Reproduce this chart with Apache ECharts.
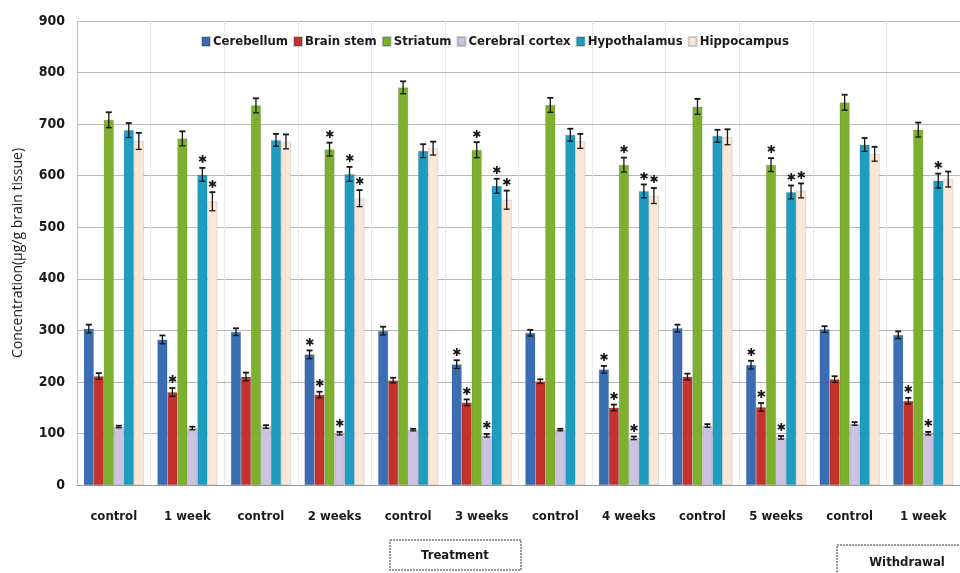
<!DOCTYPE html>
<html>
<head>
<meta charset="utf-8">
<script src="https://cdn.jsdelivr.net/npm/echarts@6/dist/echarts.min.js"></script>
<style>
  html, body { margin: 0; padding: 0; background: #fff; }
  #grafico { width: 960px; height: 573px; }
</style>
</head>
<body>
<div id="grafico"></div>
<script>
const categorias = ['control', '1 week', 'control', '2 weeks', 'control', '3 weeks',
                    'control', '4 weeks', 'control', '5 weeks', 'control', '1 week'];
const tejidos = ['Cerebellum', 'Brain stem', 'Striatum', 'Cerebral cortex', 'Hypothalamus', 'Hippocampus'];

// medias
const cerebellum     = [303, 282, 297, 253, 299, 234, 295, 224, 304, 233, 302, 291];
const brainStem      = [211, 180, 210, 175, 203, 160, 201, 150, 210, 151, 205, 163];
const striatum       = [708, 672, 736, 651, 771, 650, 737, 621, 734, 621, 742, 689];
const cerebralCortex = [113, 110, 113, 100, 107,  96, 107,  91, 115,  92, 119, 100];
const hypothalamus   = [688, 602, 669, 603, 648, 580, 679, 570, 677, 568, 660, 590];
const hippocampus    = [667, 550, 666, 556, 653, 553, 667, 561, 675, 571, 642, 593];

// errores estandar
const errCerebellum     = [8, 8, 7, 8, 8, 8, 6, 7, 7, 8, 6, 7];
const errBrainStem      = [6, 8, 8, 6, 5, 6, 4, 6, 6, 8, 6, 6];
const errStriatum       = [15, 14, 14, 13, 12, 15, 14, 14, 15, 13, 15, 14];
const errCerebralCortex = [2, 3, 3, 3, 2, 3, 2, 3, 3, 3, 3, 3];
const errHypothalamus   = [14, 13, 12, 14, 13, 14, 12, 13, 12, 13, 13, 14];
const errHippocampus    = [16, 18, 14, 16, 13, 18, 14, 15, 15, 14, 14, 15];

// diferencias significativas (*)
const sigCerebellum     = [0, 0, 0, 1, 0, 1, 0, 1, 0, 1, 0, 0];
const sigBrainStem      = [0, 1, 0, 1, 0, 1, 0, 1, 0, 1, 0, 1];
const sigStriatum       = [0, 0, 0, 1, 0, 1, 0, 1, 0, 1, 0, 0];
const sigCerebralCortex = [0, 0, 0, 1, 0, 1, 0, 1, 0, 1, 0, 1];
const sigHypothalamus   = [0, 1, 0, 1, 0, 1, 0, 1, 0, 1, 0, 1];
const sigHippocampus    = [0, 1, 0, 1, 0, 1, 0, 1, 0, 1, 0, 0];

const valores = [cerebellum, brainStem, striatum, cerebralCortex, hypothalamus, hippocampus];
const errores = [errCerebellum, errBrainStem, errStriatum, errCerebralCortex, errHypothalamus, errHippocampus];
const signos = [sigCerebellum, sigBrainStem, sigStriatum, sigCerebralCortex, sigHypothalamus, sigHippocampus];
const colores = ['#3b6db4', '#c3322d', '#7db02f', '#cdc2e2', '#1f9dc1', '#fbe7d8'];

const fuente = "'DejaVu Sans Condensed', 'Liberation Sans', sans-serif";
const ANCHO_BARRA = 10;

const dibujarError = (i) => (params, api) => {
    const cat = api.value(0);
    const val = api.value(1);
    const err = api.value(2);
    const x = api.coord([cat, val])[0] + (i - 2.5) * ANCHO_BARRA;
    const arriba = api.coord([cat, val + err])[1];
    const abajo = api.coord([cat, val - err])[1];
    const estilo = { stroke: '#151515', lineWidth: 1.3 };
    const hijos = [
        { type: 'line', shape: { x1: x, y1: arriba, x2: x, y2: abajo }, style: estilo },
        { type: 'line', shape: { x1: x - 3, y1: arriba, x2: x + 3, y2: arriba }, style: { stroke: '#151515', lineWidth: 1.8 } },
        { type: 'line', shape: { x1: x - 3, y1: abajo, x2: x + 3, y2: abajo }, style: estilo }
    ];
    if (api.value(3)) {
        hijos.push({
            type: 'text',
            style: {
                text: '\u2731', x: x, y: arriba - 2, align: 'center', verticalAlign: 'bottom',
                font: "11px 'DejaVu Sans', sans-serif", fill: '#151515'
            }
        });
    }
    return { type: 'group', children: hijos };
};

const seriesBarras = tejidos.map((nombre, i) => ({
    name: nombre,
    type: 'bar',
    data: valores[i],
    barWidth: ANCHO_BARRA,
    barGap: '0%',
    itemStyle: { color: colores[i], borderColor: 'rgba(0,0,0,0.18)', borderWidth: 0.6 },
    animation: false,
    z: 2
}));

const seriesErrores = tejidos.map((nombre, i) => ({
    name: nombre + ' error',
    type: 'custom',
    renderItem: dibujarError(i),
    data: valores[i].map((v, k) => [k, v, errores[i][k], signos[i][k]]),
    encode: { x: 0, y: 1 },
    animation: false,
    silent: true,
    z: 5
}));

const chart = echarts.init(document.getElementById('grafico'));
chart.setOption({
    backgroundColor: '#fff',
    animation: false,
    legend: {
        data: tejidos,
        left: 196,
        top: 30,
        itemWidth: 8,
        itemHeight: 9,
        itemGap: 5,
        icon: 'rect',
        textStyle: { fontFamily: fuente, fontSize: 13, fontWeight: 'bold', color: '#1a1a1a', padding: [0, 0, 0, -2] }
    },
    grid: { left: 77, right: -11, top: 21, bottom: 88 },
    xAxis: {
        type: 'category',
        data: categorias,
        axisTick: { show: false },
        axisLine: { lineStyle: { color: '#999' } },
        axisLabel: { interval: 0, margin: 25, fontFamily: fuente, fontSize: 13, fontWeight: 'bold', color: '#1a1a1a' },
        splitLine: { show: true, interval: 0, lineStyle: { color: '#d4d4d4', type: 'dotted' } }
    },
    yAxis: {
        type: 'value',
        min: 0,
        max: 900,
        interval: 100,
        name: 'Concentration(\u00b5g/g brain tissue)',
        nameLocation: 'middle',
        nameGap: 52,
        nameTextStyle: { fontFamily: "'Open Sans', sans-serif", fontSize: 14, color: '#1a1a1a' },
        axisLine: { show: true, lineStyle: { color: '#bbb', type: 'dotted' } },
        axisTick: { show: false },
        axisLabel: { margin: 12, fontFamily: fuente, fontSize: 14, fontWeight: 'bold', color: '#1a1a1a' },
        splitLine: { lineStyle: { color: '#b8b8b8', width: 1 } }
    },
    graphic: [
        {
            type: 'rect', shape: { x: 390, y: 540, width: 131, height: 30 },
            style: { fill: 'none', stroke: '#333', lineWidth: 1, lineDash: [2, 1] }
        },
        {
            type: 'text', x: 455, y: 556,
            style: { text: 'Treatment', align: 'center', verticalAlign: 'middle', font: "bold 13px " + fuente, fill: '#1a1a1a' }
        },
        {
            type: 'rect', shape: { x: 837, y: 545, width: 140, height: 40 },
            style: { fill: 'none', stroke: '#333', lineWidth: 1, lineDash: [2, 1] }
        },
        {
            type: 'text', x: 907, y: 563,
            style: { text: 'Withdrawal', align: 'center', verticalAlign: 'middle', font: "bold 13px " + fuente, fill: '#1a1a1a' }
        }
    ],
    series: seriesBarras.concat(seriesErrores)
});
</script>
</body>
</html>
